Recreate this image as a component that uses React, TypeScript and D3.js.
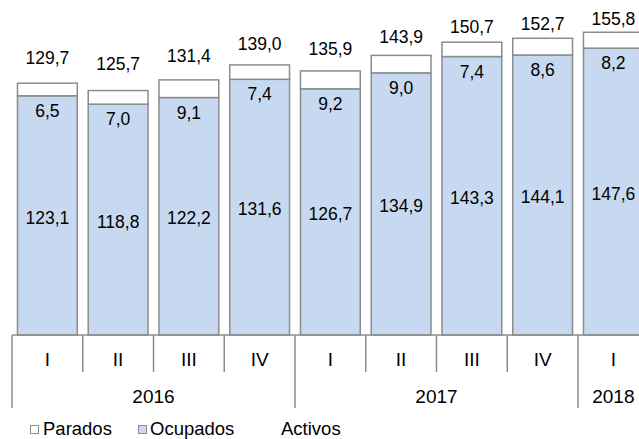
import React from 'react';
import * as d3 from 'd3';

const quarters = ['I', 'II', 'III', 'IV', 'I', 'II', 'III', 'IV', 'I'];
const years = ['2016', '2017', '2018'];
const yearCounts = [4, 4, 1];
const ocupados = [123.1, 118.8, 122.2, 131.6, 126.7, 134.9, 143.3, 144.1, 147.6];
const parados = [6.5, 7.0, 9.1, 7.4, 9.2, 9.0, 7.4, 8.6, 8.2];
const activos = [129.7, 125.7, 131.4, 139.0, 135.9, 143.9, 150.7, 152.7, 155.8];

const W = 639;
const H = 439;
const FONT = '"Liberation Sans", Arial, sans-serif';
const BLUE = '#c6d9f0';
const GREY = '#8c8c8c';

const fmt = (v: number) => v.toFixed(1).replace('.', ',');

const App: React.FC = () => {
    const baseY = 335;
    const x = d3.scaleBand<number>()
        .domain(d3.range(quarters.length))
        .range([12, 648.75])
        .paddingInner(0.155)
        .paddingOuter(0.0775);
    const step = x.step();
    const inset = (step - x.bandwidth()) / 2;
    const left = (i: number) => (x(i) as number) - inset;

    // bars
    const y = d3.scaleLinear().domain([0, 160]).range([baseY, 24.1]);
    // Activos (invisible line) sits on a secondary axis
    const y2 = d3.scaleLinear().domain([0, 160]).range([266, 27]);

    // year groups
    const starts = yearCounts.map((_, k) => d3.sum(yearCounts.slice(0, k)));

    return (
        <svg width={W} height={H} style={{ position: 'absolute', left: 0, top: 0 }}
            fontFamily={FONT}>
            <rect width={W} height={H} fill="#fff" />
            {quarters.map((_, i) => {
                const x0 = x(i) as number;
                const cx = x0 + x.bandwidth() / 2;
                const yo = y(ocupados[i]);
                const yp = y(ocupados[i] + parados[i]);
                return (
                    <g key={i}>
                        <rect x={x0} y={yo} width={x.bandwidth()} height={baseY - yo}
                            fill={BLUE} stroke={GREY} strokeWidth={1.5} />
                        <rect x={x0} y={yp} width={x.bandwidth()} height={yo - yp}
                            fill="#fff" stroke={GREY} strokeWidth={1.5} />
                        <text x={cx} y={(yo + baseY) / 2 + 2} dy="0.35em"
                            textAnchor="middle" fontSize={17.5}>{fmt(ocupados[i])}</text>
                        <text x={cx} y={yo + 15} dy="0.35em"
                            textAnchor="middle" fontSize={17.5}>{fmt(parados[i])}</text>
                        <text x={cx} y={y2(activos[i]) - 14} dy="0.35em"
                            textAnchor="middle" fontSize={17.5}>{fmt(activos[i])}</text>
                    </g>
                );
            })}

            {/* category axis */}
            <line x1={left(0)} x2={W} y1={baseY} y2={baseY} stroke={GREY} strokeWidth={1.5} />
            {quarters.map((q, i) => (
                <g key={'q' + i}>
                    {!starts.includes(i) && (
                        <line x1={left(i)} x2={left(i)} y1={baseY} y2={372} stroke={GREY} strokeWidth={1.5} />
                    )}
                    <text x={left(i) + step / 2} y={359} dy="0.35em" textAnchor="middle" fontSize={19}>{q}</text>
                </g>
            ))}
            {years.map((yr, k) => (
                <g key={yr}>
                    <line x1={left(starts[k])} x2={left(starts[k])} y1={baseY} y2={408}
                        stroke={GREY} strokeWidth={1.5} />
                    <text x={left(starts[k]) + (step * yearCounts[k]) / 2} y={396} dy="0.35em"
                        textAnchor="middle" fontSize={19}>{yr}</text>
                </g>
            ))}

            {/* legend */}
            <g fontSize={18.5}>
                <rect x={30.5} y={425.5} width={8} height={8} fill="#fff" stroke={GREY} strokeWidth={1} />
                <text x={43} y={429} dy="0.35em">Parados</text>
                <rect x={138.5} y={425.5} width={8} height={8} fill={BLUE} stroke={GREY} strokeWidth={1} />
                <text x={150} y={429} dy="0.35em">Ocupados</text>
                <text x={281} y={429} dy="0.35em">Activos</text>
            </g>
        </svg>
    );
};

export default App;
